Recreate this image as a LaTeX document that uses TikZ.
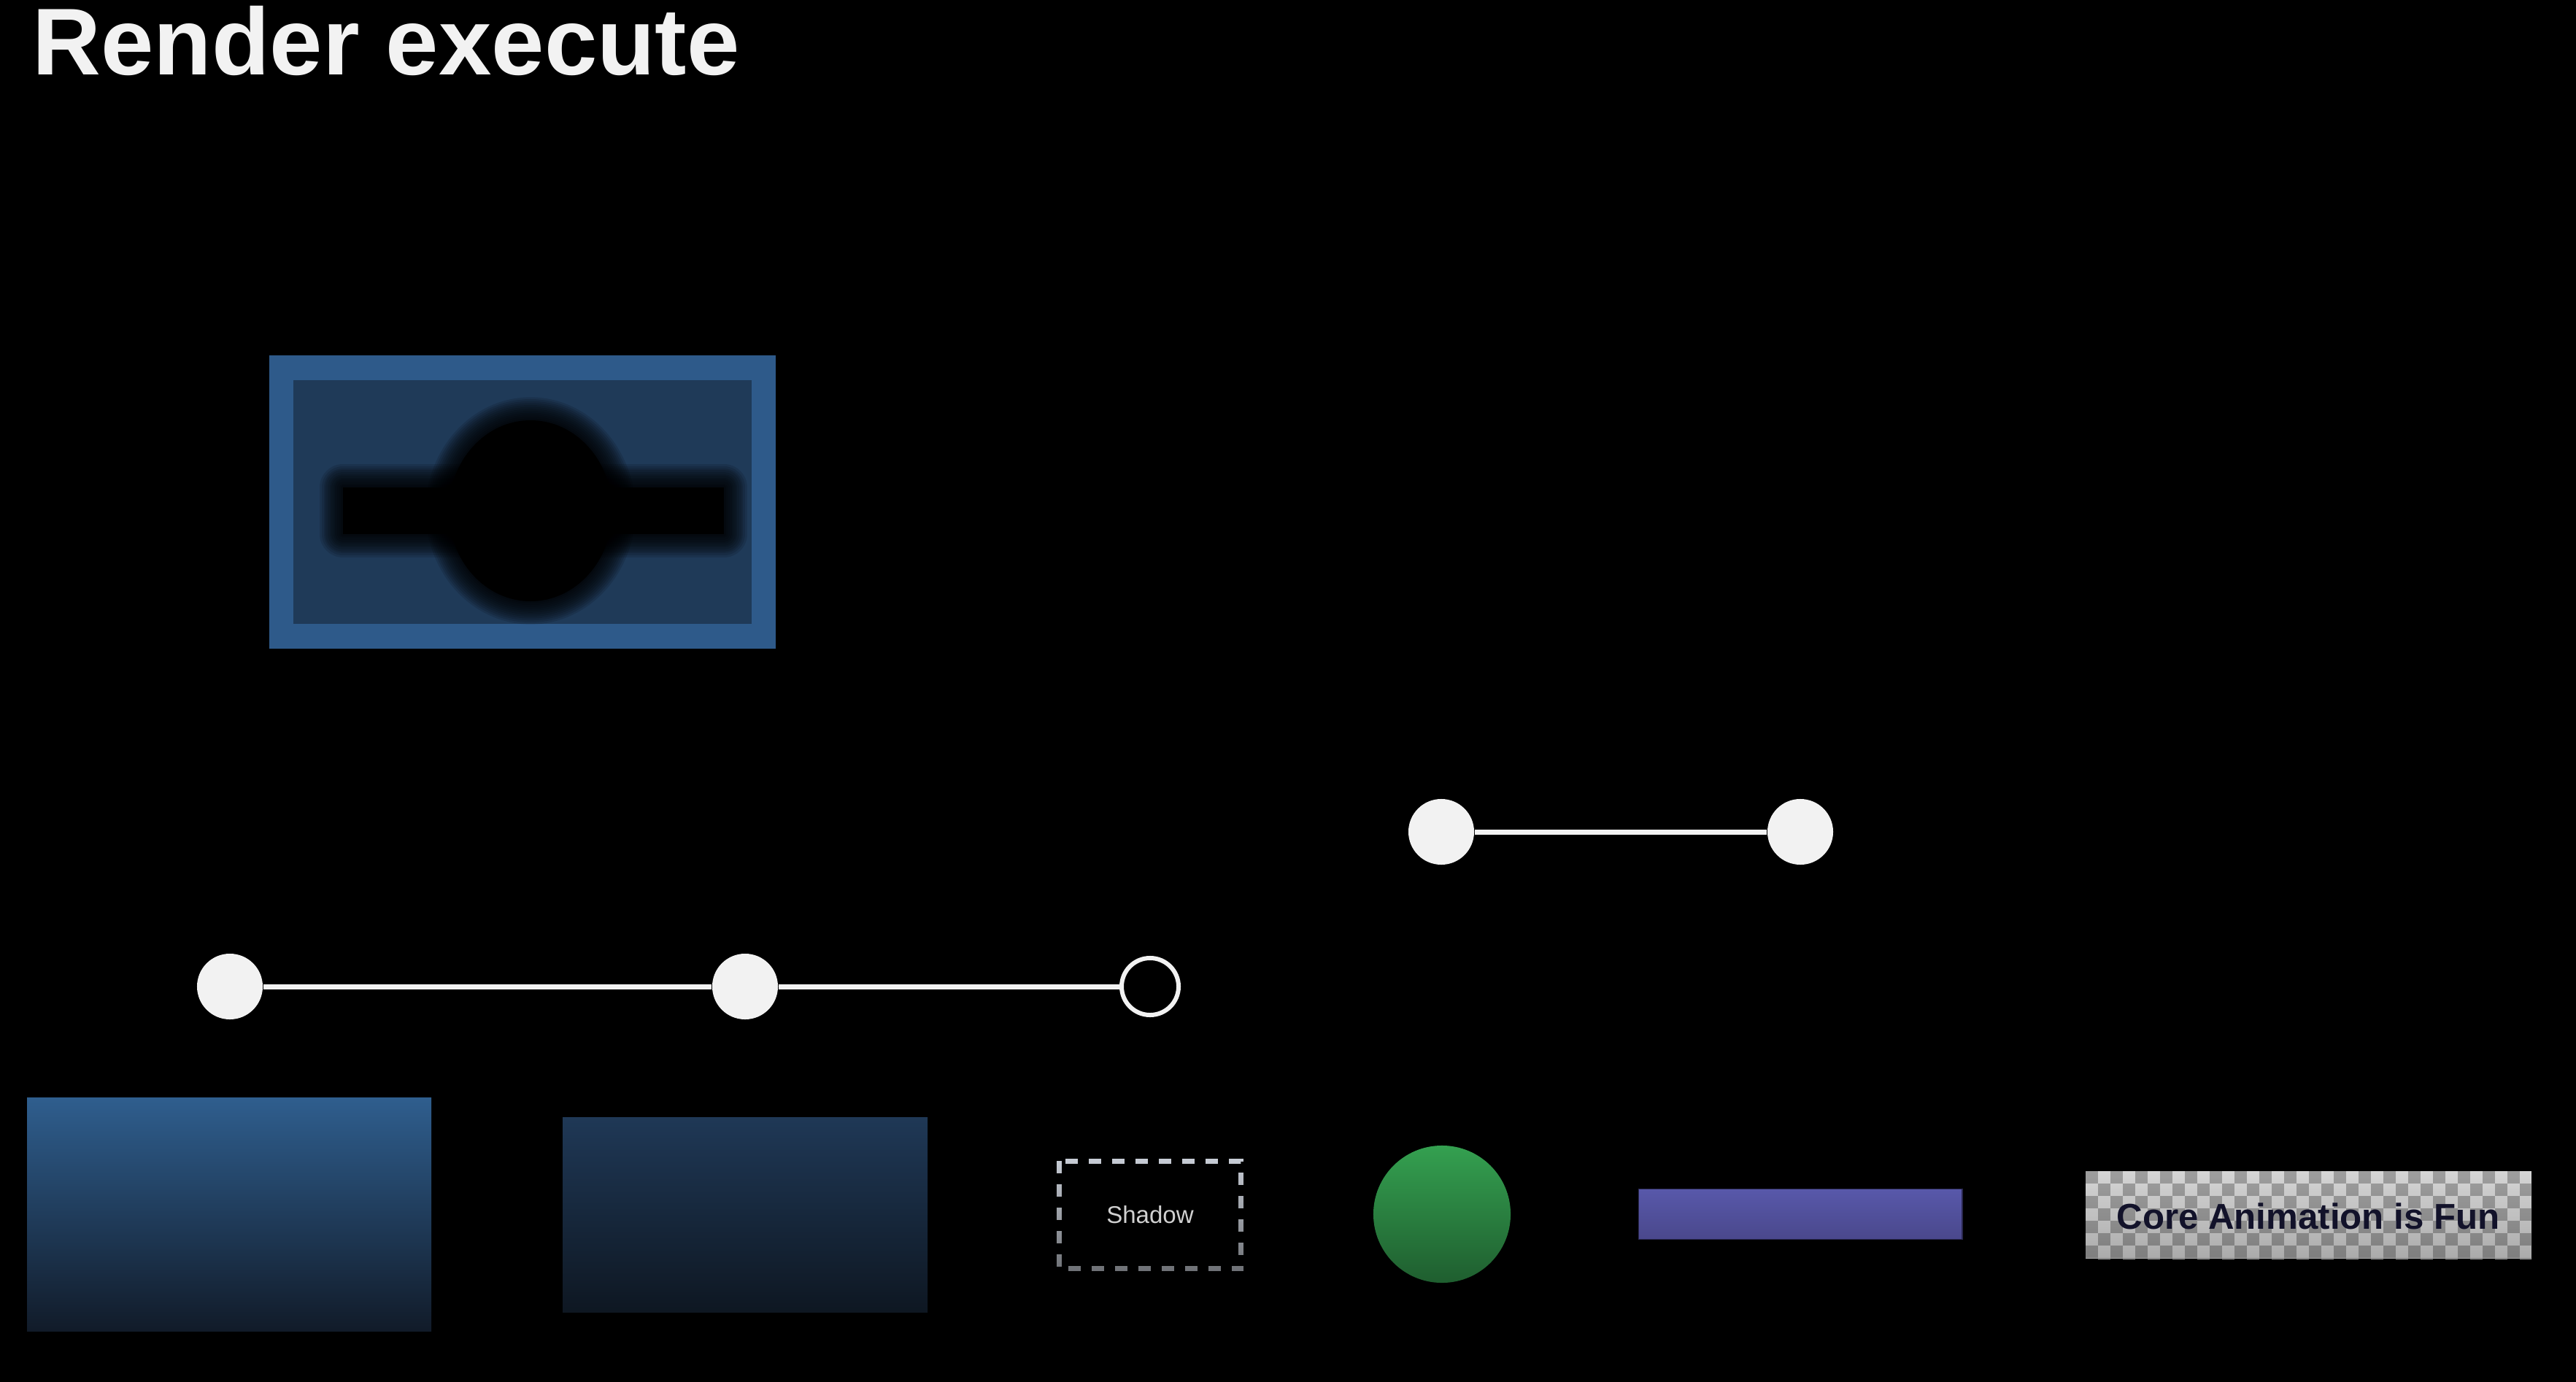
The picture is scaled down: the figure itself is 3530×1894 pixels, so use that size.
\documentclass[tikz,border=0pt]{standalone}
\usepackage{fontspec}
\setmainfont{Liberation Sans}
\usetikzlibrary{fadings}

\definecolor{knobwhite}{HTML}{F2F2F2}
\definecolor{framblue}{HTML}{2E5A8A}
\definecolor{deepblue}{HTML}{1F3A58}
\definecolor{skytop}{HTML}{2F5E8E}
\definecolor{skybot}{HTML}{111B29}
\definecolor{nighttop}{HTML}{1F3856}
\definecolor{nightbot}{HTML}{0E1722}
\definecolor{shadowline}{HTML}{C8CDD6}
\definecolor{shadowtext}{HTML}{D0D0D0}
\definecolor{leaftop}{HTML}{34A050}
\definecolor{leafbot}{HTML}{1F5E2F}
\definecolor{plumtop}{HTML}{5858AA}
\definecolor{plumbot}{HTML}{4A488C}
\definecolor{plumrim}{HTML}{2A2850}
\definecolor{checklight}{HTML}{D6D6D6}
\definecolor{checkdark}{HTML}{9E9E9E}
\definecolor{inknavy}{HTML}{12122A}

\tikzfading[name=shadowfade, top color=transparent!0, bottom color=transparent!45]
\tikzfading[name=checkfade, top color=transparent!100, bottom color=transparent!80]

\begin{document}
\begin{tikzpicture}[x=0.01cm, y=-0.01cm,
    knob/.style={circle, fill=knobwhite, minimum size=0.9cm, inner sep=0pt},
    knobopen/.style={circle, draw=knobwhite, fill=black, line width=0.06cm, minimum size=0.78cm, inner sep=0pt},
    track/.style={draw=knobwhite, line width=0.07cm},
]

% slide background
\fill[black] (0,0) rectangle (3530,1894);
\useasboundingbox (0,0) rectangle (3530,1894);

\node (title) [anchor=base west, inner sep=0pt, text=knobwhite, font=\fontsize{37}{40}\selectfont\bfseries] at (44,103) {Render execute};

% blurred layer
\fill[framblue] (369,487) rectangle (1063,889);
\fill[deepblue] (402,521) rectangle (1030,855);
\begin{scope}
  \clip (402,521) rectangle (1030,855);
  \foreach \w in {1.5pt,3pt,4.5pt,6pt,7.5pt,9pt,10.5pt,12pt,13.5pt,15pt,16.5pt,18pt} {
    \draw[black, opacity=0.12, line width=\w, line join=round] (470,668) rectangle (992,732);
    \draw[black, opacity=0.12, line width=\w] (727,700) ellipse [x radius=112, y radius=124];
  }
  \fill[black] (470,668) rectangle (992,732);
  \fill[black] (727,700) ellipse [x radius=112, y radius=124];
\end{scope}

% timelines
\node (k1) [knob] at (315,1352) {};
\node (k2) [knob] at (1021,1352) {};
\node (k3) [knobopen] at (1576,1352) {};
\node (k4) [knob] at (1975,1140) {};
\node (k5) [knob] at (2467,1140) {};

\draw [track] (k1) -- (k2);
\draw [track] (k2) -- (k3);
\draw [track] (k4) -- (k5);

% bottom row
\shade[top color=skytop, bottom color=skybot] (37,1504) rectangle (591,1824);
\shade[top color=nighttop, bottom color=nightbot] (771,1531) rectangle (1271,1798);

\node (shadow) [minimum width=2.48cm, minimum height=1.46cm, inner sep=0pt, text=shadowtext, font=\fontsize{9.4}{11}\selectfont] at (1576,1665) {Shadow};
\draw[shadowline, line width=0.07cm, dash pattern=on 0.17cm off 0.15cm, path fading=shadowfade] (shadow.north west) rectangle (shadow.south east);

\node (dot) [circle, minimum size=1.88cm, inner sep=0pt, top color=leaftop, bottom color=leafbot] at (1976,1664) {};

\node (bar) [rectangle, minimum width=4.43cm, minimum height=0.69cm, inner sep=0pt, top color=plumtop, bottom color=plumbot, draw=plumrim, line width=0.5pt] at (2467,1664) {};

% checkered text layer
\begin{scope}
  \clip (2858,1605) rectangle (3469,1725);
  \fill[checklight] (2858,1605) rectangle (3469,1725);
  \foreach \i in {0,2,...,36}
    \foreach \j in {0,2,...,6} {
      \fill[checkdark] (2858+\i*17,1605+\j*17) rectangle ++(17,17);
      \fill[checkdark] (2858+\i*17+17,1605+\j*17+17) rectangle ++(17,17);
    }
  \fill[black, path fading=checkfade] (2858,1605) rectangle (3469,1725);
\end{scope}
\node (caption) [inner sep=0pt, text=inknavy, font=\fontsize{14}{16}\selectfont\bfseries] at (3163,1667) {Core Animation is Fun};

\end{tikzpicture}
\end{document}
